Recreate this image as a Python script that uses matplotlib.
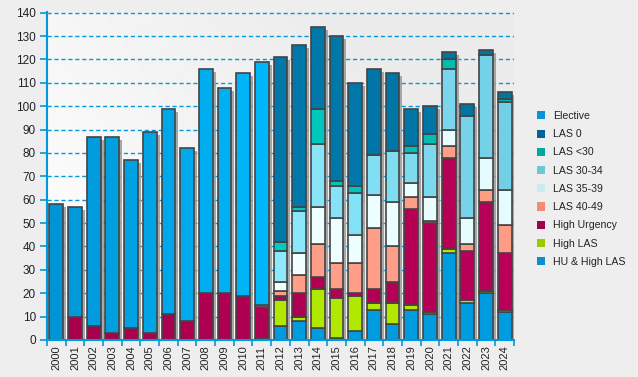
import numpy as np
import matplotlib
matplotlib.use("Agg")
import matplotlib.pyplot as plt
from matplotlib.patches import Patch
from matplotlib.transforms import ScaledTranslation
from matplotlib.colors import to_rgb

plt.rcParams['font.family'] = ['Liberation Sans', 'DejaVu Sans']

years = [str(y) for y in range(2000, 2025)]

hu_high_las  = [0]*11 + [1, 6, 8, 5, 1, 4, 13, 7, 13, 11, 37, 16, 20, 12]
high_las     = [0]*12 + [11, 2, 17, 17, 15, 3, 9, 2, 1, 2, 1, 1, 1]
high_urgency = [0, 10, 6, 3, 5, 3, 11, 8, 20, 20, 19, 13,
                2, 10, 5, 4, 1, 6, 9, 41, 38, 39, 21, 38, 24]
las_40_49    = [0]*11 + [1, 2, 8, 14, 11, 13, 26, 15, 5, 1, 5, 3, 5, 12]
las_35_39    = [0]*12 + [4, 9, 16, 19, 12, 14, 19, 6, 10, 7, 11, 14, 15]
las_30_34    = [0]*12 + [13, 18, 27, 14, 18, 17, 22, 13, 23, 26, 44, 44, 38]
las_lt30     = [0]*12 + [4, 2, 15, 2, 3, 0, 0, 3, 4, 4, 0, 0, 1]
las_0        = [0]*12 + [79, 69, 35, 62, 44, 37, 33, 16, 12, 3, 5, 2, 3]
elective     = [58, 47, 81, 84, 72, 86, 88, 74, 96, 88, 95, 104] + [0]*13

# stacking order bottom -> top: (label, values, bar colour left, bar colour right, legend colour)
series = [
    ("HU & High LAS", hu_high_las, "#009ce0", "#009ce0", "#0a8fd4"),
    ("High LAS", high_las, "#b0e800", "#b0e800", "#99cc00"),
    ("High Urgency", high_urgency, "#a8004c", "#b80058", "#a0004f"),
    ("LAS 40-49", las_40_49, "#ffa08a", "#ff9c86", "#f08c78"),
    ("LAS 35-39", las_35_39, "#f2ffff", "#e4fcff", "#cce8f4"),
    ("LAS 30-34", las_30_34, "#8ceafc", "#72cfe6", "#70c6d9"),
    ("LAS <30", las_lt30, "#00cac2", "#00b8a8", "#00a99d"),
    ("LAS 0", las_0, "#0078aa", "#0074a4", "#006699"),
    ("Elective", elective, "#0096d6", "#00b6fa", "#0a93d8"),
]
legend_order = ["Elective", "LAS 0", "LAS <30", "LAS 30-34", "LAS 35-39",
                "LAS 40-49", "High Urgency", "High LAS", "HU & High LAS"]

fig = plt.figure(figsize=(6.38, 3.77), dpi=100, facecolor="#eeeeee")
pos = [47/638, 37/377, (514-47)/638, (340-12)/377]

# background gradient axes
bg = fig.add_axes(pos, zorder=-1)
gx, gy = np.meshgrid(np.linspace(0, 1, 300), np.linspace(0, 1, 300))
val = np.clip(1.0 - 0.07*gx - 0.035*gy, 0.925, 1.0)
bg.imshow(val, cmap="gray", vmin=0, vmax=1, origin="lower", extent=[0, 1, 0, 1], aspect="auto")
bg.axis("off")

ax = fig.add_axes(pos)
ax.patch.set_alpha(0)

x = np.arange(len(years))
width = 0.74
totals = np.zeros(len(years))
for _, vals, *_c in series:
    totals += np.array(vals)

shadow_tr = ax.transData + ScaledTranslation(3/100, -3/100, fig.dpi_scale_trans)
ax.bar(x, totals, width, color="#9a9a9a", alpha=0.85, transform=shadow_tr, zorder=1, linewidth=0)

bottom = np.zeros(len(years))
for label, vals, c0, c1, _lc in series:
    vals = np.array(vals, dtype=float)
    a, b = np.array(to_rgb(c0)), np.array(to_rgb(c1))
    idx = np.where(vals > 0)[0]
    if len(idx):
        lo, hi = idx.min(), idx.max()
        cols = [tuple(a + (b - a) * ((i - lo) / max(hi - lo, 1))) for i in idx]
        ax.bar(x[idx], vals[idx], width, bottom=bottom[idx], color=cols,
               edgecolor="#444444", linewidth=1.2, zorder=2)
    bottom += vals

ax.set_xlim(-0.5, len(years) - 0.5)
ax.set_ylim(0, 140.3)
ax.set_yticks(np.arange(0, 141, 10))
ax.yaxis.grid(True, color="#0099dd", linestyle=(0, (3, 2)), linewidth=1.0)
ax.set_axisbelow(True)

for s in ["top", "right"]:
    ax.spines[s].set_visible(False)
for s in ["left", "bottom"]:
    ax.spines[s].set_color("#0099dd")
    ax.spines[s].set_linewidth(1.5)

ax.set_xticks(x)
ax.set_xticklabels(years, rotation=90)
ax.set_xticks(np.arange(-0.5, len(years), 1), minor=True)
ax.tick_params(axis="x", which="major", length=0, labelsize=8, labelcolor="#222222", pad=4)
ax.tick_params(axis="x", which="minor", length=4, width=1.2, color="#0099dd", direction="out")
ax.tick_params(axis="y", which="major", length=5, width=1.2, color="#0099dd",
               labelsize=8.5, labelcolor="#222222", pad=3)

lc = {s[0]: s[4] for s in series}
handles = [Patch(facecolor=lc[l], edgecolor="none") for l in legend_order]
fig.legend(handles, legend_order, loc="upper left", bbox_to_anchor=(537/638, 1 - 111/377),
           frameon=False, fontsize=7.6, handlelength=0.8, handleheight=0.8,
           handletextpad=0.75, labelspacing=0.78, borderaxespad=0, borderpad=0,
           labelcolor="#222222")

fig.savefig("out.png", dpi=100, facecolor=fig.get_facecolor())
